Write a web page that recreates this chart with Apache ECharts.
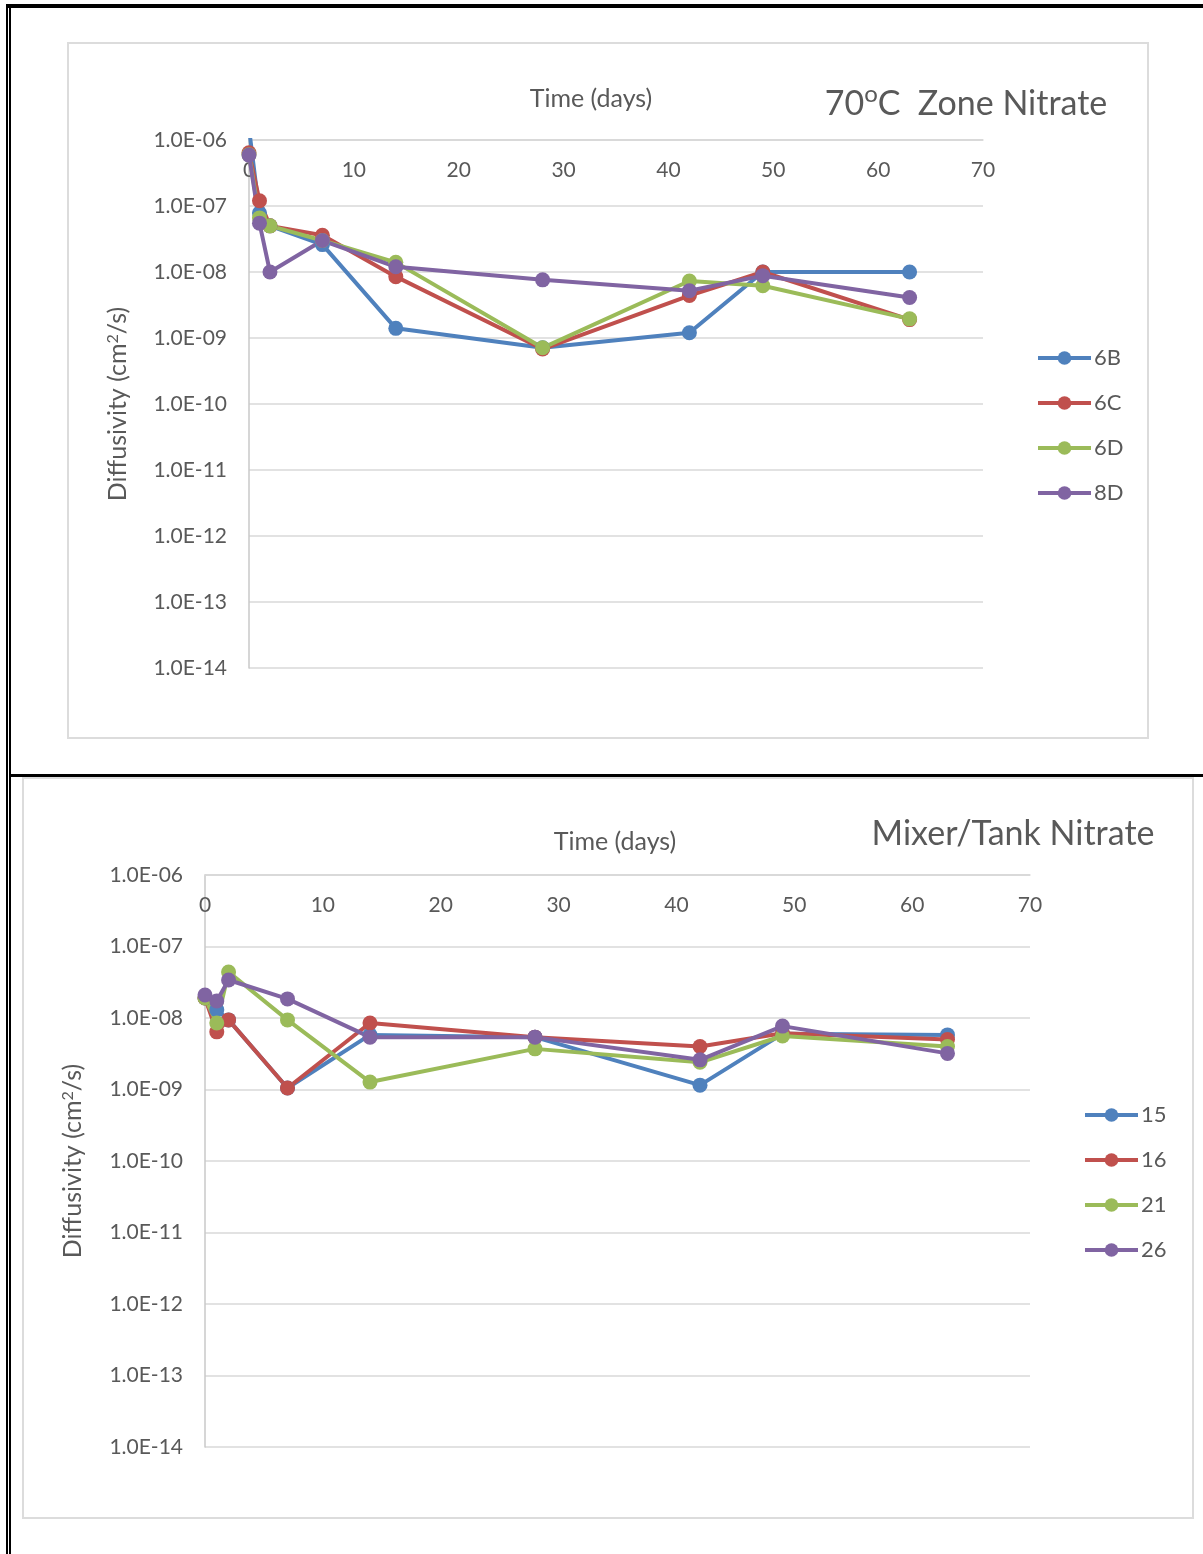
<!DOCTYPE html>
<html>
<head>
<meta charset="utf-8">
<script src="https://cdn.jsdelivr.net/npm/echarts@6/dist/echarts.min.js"></script>
<style>
  html, body { margin: 0; padding: 0; background: #ffffff; }
  #page { position: relative; width: 1203px; height: 1554px; overflow: hidden; background: #fff; }
  .blk { position: absolute; background: #000; }
  .box { position: absolute; border: 2px solid #dcdcdc; box-sizing: border-box; }
  #chart { position: absolute; left: 0; top: 0; width: 1203px; height: 1554px; }
</style>
</head>
<body>
<div id="page">
  <div class="blk" style="left:6px;top:4px;width:1197px;height:4px;"></div>
  <div class="blk" style="left:6px;top:4px;width:2px;height:1550px;"></div>
  <div class="blk" style="left:9px;top:8px;width:2px;height:1546px;"></div>
  <div class="blk" style="left:11px;top:774px;width:1192px;height:3px;"></div>
  <div class="box" style="left:67px;top:42px;width:1082px;height:697px;"></div>
  <div class="box" style="left:22px;top:777px;width:1172px;height:742px;"></div>
  <div id="chart"></div>
</div>
<script>
// ---- data ----
const days = [0, 1, 2, 7, 14, 28, 42, 49, 63];
const xTickLabels = ['0', '10', '20', '30', '40', '50', '60', '70'];
const yTickLabels = ['1.0E-14', '1.0E-13', '1.0E-12', '1.0E-11', '1.0E-10', '1.0E-09', '1.0E-08', '1.0E-07', '1.0E-06'];

// 70°C Zone Nitrate
const zoneNames = ['6B', '6C', '6D', '8D'];
const s6B = [1.5e-6, 7.8e-8, 5.0e-8, 2.6e-8, 1.4e-9, 7.1e-10, 1.2e-9, 1.0e-8, 1.0e-8];
const s6C = [6.4e-7, 1.2e-7, 5.0e-8, 3.6e-8, 8.5e-9, 6.8e-10, 4.4e-9, 1.0e-8, 1.9e-9];
const s6D = [6.0e-7, 6.6e-8, 5.0e-8, 3.0e-8, 1.4e-8, 7.1e-10, 7.3e-9, 6.2e-9, 1.95e-9];
const s8D = [5.9e-7, 5.5e-8, 1.0e-8, 3.0e-8, 1.2e-8, 7.6e-9, 5.2e-9, 8.8e-9, 4.1e-9];

// Mixer/Tank Nitrate
const mixNames = ['15', '16', '21', '26'];
const s15 = [1.9e-8, 1.3e-8, 9.4e-9, 1.05e-9, 5.8e-9, 5.4e-9, 1.15e-9, 6.0e-9, 5.8e-9];
const s16 = [1.9e-8, 6.4e-9, 9.4e-9, 1.05e-9, 8.5e-9, 5.4e-9, 4.0e-9, 6.1e-9, 5.0e-9];
const s21 = [1.9e-8, 8.5e-9, 4.4e-8, 9.4e-9, 1.27e-9, 3.7e-9, 2.4e-9, 5.6e-9, 4.0e-9];
const s26 = [2.1e-8, 1.73e-8, 3.4e-8, 1.85e-8, 5.4e-9, 5.4e-9, 2.6e-9, 7.7e-9, 3.2e-9];

const colors = ['#4F81BD', '#C0504D', '#9BBB59', '#8064A2'];
const FONT = 'Lato';
const TXT = '#595959';

const chart = echarts.init(document.getElementById('chart'), null, { renderer: 'canvas' });

function xAxisCfg(gridIndex) {
  return {
    type: 'value', gridIndex, position: 'top', min: 0, max: 70, interval: 10,
    axisLine: { show: true, lineStyle: { color: '#d9d9d9', width: 1.5 } },
    axisTick: { show: false },
    splitLine: { show: false },
    axisLabel: {
      inside: true, margin: 20, fontFamily: FONT, fontSize: 21, color: TXT,
      showMinLabel: true, showMaxLabel: true,
      formatter: v => xTickLabels[Math.round(v / 10)]
    }
  };
}
function yAxisCfg(gridIndex) {
  return {
    type: 'log', logBase: 10, gridIndex, min: 1e-14, max: 1e-6, interval: 1,
    axisLine: { show: true, lineStyle: { color: '#c8c8c8', width: 1.5 } },
    axisTick: { show: false },
    minorTick: { show: false },
    splitLine: { show: true, lineStyle: { color: '#d9d9d9', width: 1.5 } },
    axisLabel: {
      margin: 22, fontFamily: FONT, fontSize: 21, color: TXT,
      showMinLabel: true, showMaxLabel: true,
      formatter: v => yTickLabels[Math.round(Math.log10(v)) + 14]
    }
  };
}
function mkSeries(name, vals, idx, gi) {
  return {
    name, type: 'line', xAxisIndex: gi, yAxisIndex: gi,
    data: days.map((d, i) => [d, vals[i]]),
    symbol: 'circle', symbolSize: 15, clip: true,
    itemStyle: { color: colors[idx] },
    lineStyle: { color: colors[idx], width: 4 },
    emphasis: { disabled: true }, animation: false
  };
}
function legendCfg(names, left, top) {
  return {
    data: names, orient: 'vertical', left, top, padding: 0,
    itemWidth: 53, itemHeight: 17, itemGap: 23,
    lineStyle: { width: 4 },
    textStyle: { fontFamily: FONT, fontSize: 22, color: TXT, padding: [0, 0, 0, -2] },
    selectedMode: false
  };
}
function txt(text, x, y, size, rot, supScale, supRaise) {
  return {
    type: 'text', x, y, rotation: rot || 0, silent: true,
    style: {
      text, fill: TXT, font: size + 'px ' + FONT, align: 'center', verticalAlign: 'middle',
      rich: {
        sup: { fontSize: Math.round(size * (supScale || 0.62)), fontFamily: FONT, fill: TXT, verticalAlign: 'top', padding: [0, 0, Math.round(size * (supRaise || 0.45)), 0] },
        n: { fontSize: size, fontFamily: FONT, fill: TXT }
      }
    }
  };
}

chart.setOption({
  backgroundColor: 'transparent',
  animation: false,
  grid: [
    { left: 249, top: 140, width: 734, height: 528 },
    { left: 205, top: 875, width: 825, height: 572 }
  ],
  xAxis: [xAxisCfg(0), xAxisCfg(1)],
  yAxis: [yAxisCfg(0), yAxisCfg(1)],
  legend: [legendCfg(zoneNames, 1036, 347), legendCfg(mixNames, 1083, 1104)],
  series: [
    mkSeries(zoneNames[0], s6B, 0, 0),
    mkSeries(zoneNames[1], s6C, 1, 0),
    mkSeries(zoneNames[2], s6D, 2, 0),
    mkSeries(zoneNames[3], s8D, 3, 0),
    mkSeries(mixNames[0], s15, 0, 1),
    mkSeries(mixNames[1], s16, 1, 1),
    mkSeries(mixNames[2], s21, 2, 1),
    mkSeries(mixNames[3], s26, 3, 1)
  ],
  graphic: [
    txt('{n|70}{sup|o}{n|C  Zone Nitrate}', 966, 104, 34, 0, 0.72, 0.6),
    txt('Mixer/Tank Nitrate', 1013, 834, 34),
    txt('Time (days)', 591, 99, 25),
    txt('Time (days)', 615, 842, 25),
    txt('Diffusivity (cm{sup|2}/s)', 118, 404, 25, Math.PI / 2),
    txt('Diffusivity (cm{sup|2}/s)', 73, 1161, 25, Math.PI / 2)
  ]
});
</script>
</body>
</html>
